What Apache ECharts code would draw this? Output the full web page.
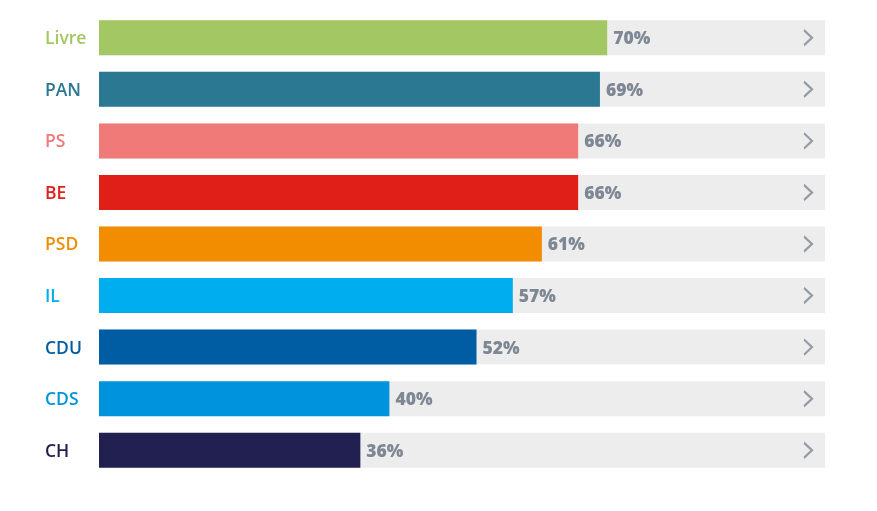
<!DOCTYPE html>
<html lang="pt">

<head>
  <meta charset="UTF-8">
  <title>Partidos</title>
  <script src="https://cdn.jsdelivr.net/npm/echarts@6/dist/echarts.min.js"></script>
  <style>
    body { margin: 0; background: #fff; }
  </style>
</head>

<body>
  <div id="chart" style="height: 511px; width: 877px;"></div>
</body>
<script>
  const parties = ['Livre', 'PAN', 'PS', 'BE', 'PSD', 'IL', 'CDU', 'CDS', 'CH']
  const values = [70, 69, 66, 66, 61, 57, 52, 40, 36]
  const partyColors = ['#a3c762', '#2a7891', '#ef7a78', '#e01f19', '#f28c00', '#00aeef', '#005da4', '#0093dd', '#212050']
  const fullValue = 100

  let myCharts = echarts.init(document.getElementById('chart'))
  let option = {
    animation: false,
    grid: { left: 99, top: 12, width: 726, height: 464 },
    xAxis: {
      type: 'value',
      min: 0,
      max: fullValue,
      show: false
    },
    yAxis: {
      type: 'category',
      data: parties,
      inverse: true,
      axisLine: { show: false },
      axisTick: { show: false },
      axisLabel: {
        margin: 54,
        align: 'left',
        formatter: '{t|{value}}',
        rich: {
          t: {
            fontFamily: 'Open Sans',
            fontSize: 17.5,
            fontWeight: 600,
            padding: [3, 0, 0, 0]
          }
        },
        color: (val, idx) => partyColors[idx]
      }
    },
    series: [
      {
        // fundo cinzento
        type: 'bar',
        silent: true,
        barWidth: 35,
        barGap: '-100%',
        data: parties.map(() => fullValue),
        itemStyle: { color: '#ededed' }
      },
      {
        type: 'bar',
        barWidth: 35,
        barGap: '-100%',
        data: values.map((v, i) => ({ value: v, itemStyle: { color: partyColors[i] } })),
        label: {
          show: true,
          position: 'right',
          distance: 6,
          offset: [0, 1.5],
          formatter: '{c}%',
          fontFamily: 'Open Sans',
          fontWeight: 800,
          fontSize: 17.5,
          color: '#7e8794'
        }
      },
      {
        // seta no fim de cada linha
        type: 'scatter',
        silent: true,
        z: 5,
        data: parties.map((p, i) => [fullValue, i]),
        symbol: 'path://M0,0 L8,8 L0,16',
        symbolSize: [8, 15],
        symbolOffset: [-17, 0],
        itemStyle: { color: 'none', borderColor: '#7e8794', borderWidth: 2 }
      }
    ]
  }
  myCharts.setOption(option)
</script>

</html>
